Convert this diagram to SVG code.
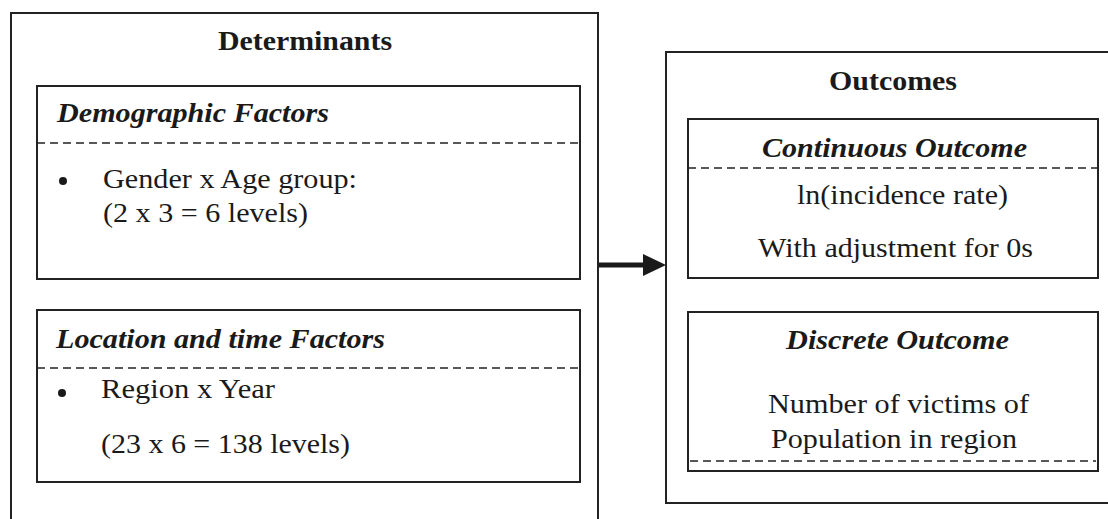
<svg xmlns="http://www.w3.org/2000/svg" width="1108" height="519" viewBox="0 0 1108 519">
<defs>
<style>
.box{fill:none;stroke:#222;stroke-width:2}
.dash{stroke:#222;stroke-width:1.6;stroke-dasharray:8 5}
.t{font-family:"Liberation Serif","Times New Roman",serif;fill:#1a1a1a;font-size:27.5px}
.b{font-weight:bold;font-size:28px}
.bi{font-weight:bold;font-style:italic;font-size:27px}
</style>
</defs>
<rect width="1108" height="519" fill="#fff"/>
<g id="determinants">
<path class="box" d="M11,530 L11,13 L598,13 L598,530"/>
<text class="t b" x="218" y="50" textLength="174" lengthAdjust="spacingAndGlyphs">Determinants</text>
</g>
<g id="demographic">
<rect class="box" x="37" y="86" width="543" height="193"/>
<text class="t bi" x="57" y="122" textLength="272" lengthAdjust="spacingAndGlyphs">Demographic Factors</text>
<line class="dash" x1="37" y1="143" x2="580" y2="143"/>
<circle cx="63" cy="181" r="4" fill="#1a1a1a"/>
<text class="t" x="103" y="188" textLength="254" lengthAdjust="spacingAndGlyphs">Gender x Age group:</text>
<text class="t" x="103" y="222" textLength="205" lengthAdjust="spacingAndGlyphs">(2 x 3 = 6 levels)</text>
</g>
<g id="location">
<rect class="box" x="37" y="310" width="543" height="172"/>
<text class="t bi" x="56" y="348" textLength="329" lengthAdjust="spacingAndGlyphs">Location and time Factors</text>
<line class="dash" x1="37" y1="368" x2="580" y2="368"/>
<circle cx="62" cy="393" r="4" fill="#1a1a1a"/>
<text class="t" x="101" y="398" textLength="174" lengthAdjust="spacingAndGlyphs">Region x Year</text>
<text class="t" x="101" y="453" textLength="249" lengthAdjust="spacingAndGlyphs">(23 x 6 = 138 levels)</text>
</g>
<g id="outcomes">
<path class="box" d="M1115,52 L666,52 L666,503 L1115,503"/>
<text class="t b" x="829" y="90" textLength="128" lengthAdjust="spacingAndGlyphs">Outcomes</text>
</g>
<g id="continuous">
<rect class="box" x="688" y="119" width="410" height="159"/>
<text class="t bi" x="762" y="157" textLength="265" lengthAdjust="spacingAndGlyphs">Continuous Outcome</text>
<line class="dash" x1="688" y1="168" x2="1098" y2="168"/>
<text class="t" x="797" y="204" textLength="211" lengthAdjust="spacingAndGlyphs">ln(incidence rate)</text>
<text class="t" x="758" y="257" textLength="275" lengthAdjust="spacingAndGlyphs">With adjustment for 0s</text>
</g>
<g id="discrete">
<rect class="box" x="688" y="312" width="410" height="159"/>
<text class="t bi" x="786" y="349" textLength="223" lengthAdjust="spacingAndGlyphs">Discrete Outcome</text>
<text class="t" x="768" y="413" textLength="261" lengthAdjust="spacingAndGlyphs">Number of victims of</text>
<text class="t" x="771" y="448" textLength="246" lengthAdjust="spacingAndGlyphs">Population in region</text>
<line class="dash" x1="690" y1="461" x2="1096" y2="461"/>
</g>
<g id="connectors">
<line x1="599" y1="265" x2="645" y2="265" stroke="#1a1a1a" stroke-width="5"/>
<path d="M643,254 L666,265 L643,276 z" fill="#1a1a1a"/>
</g>
</svg>
